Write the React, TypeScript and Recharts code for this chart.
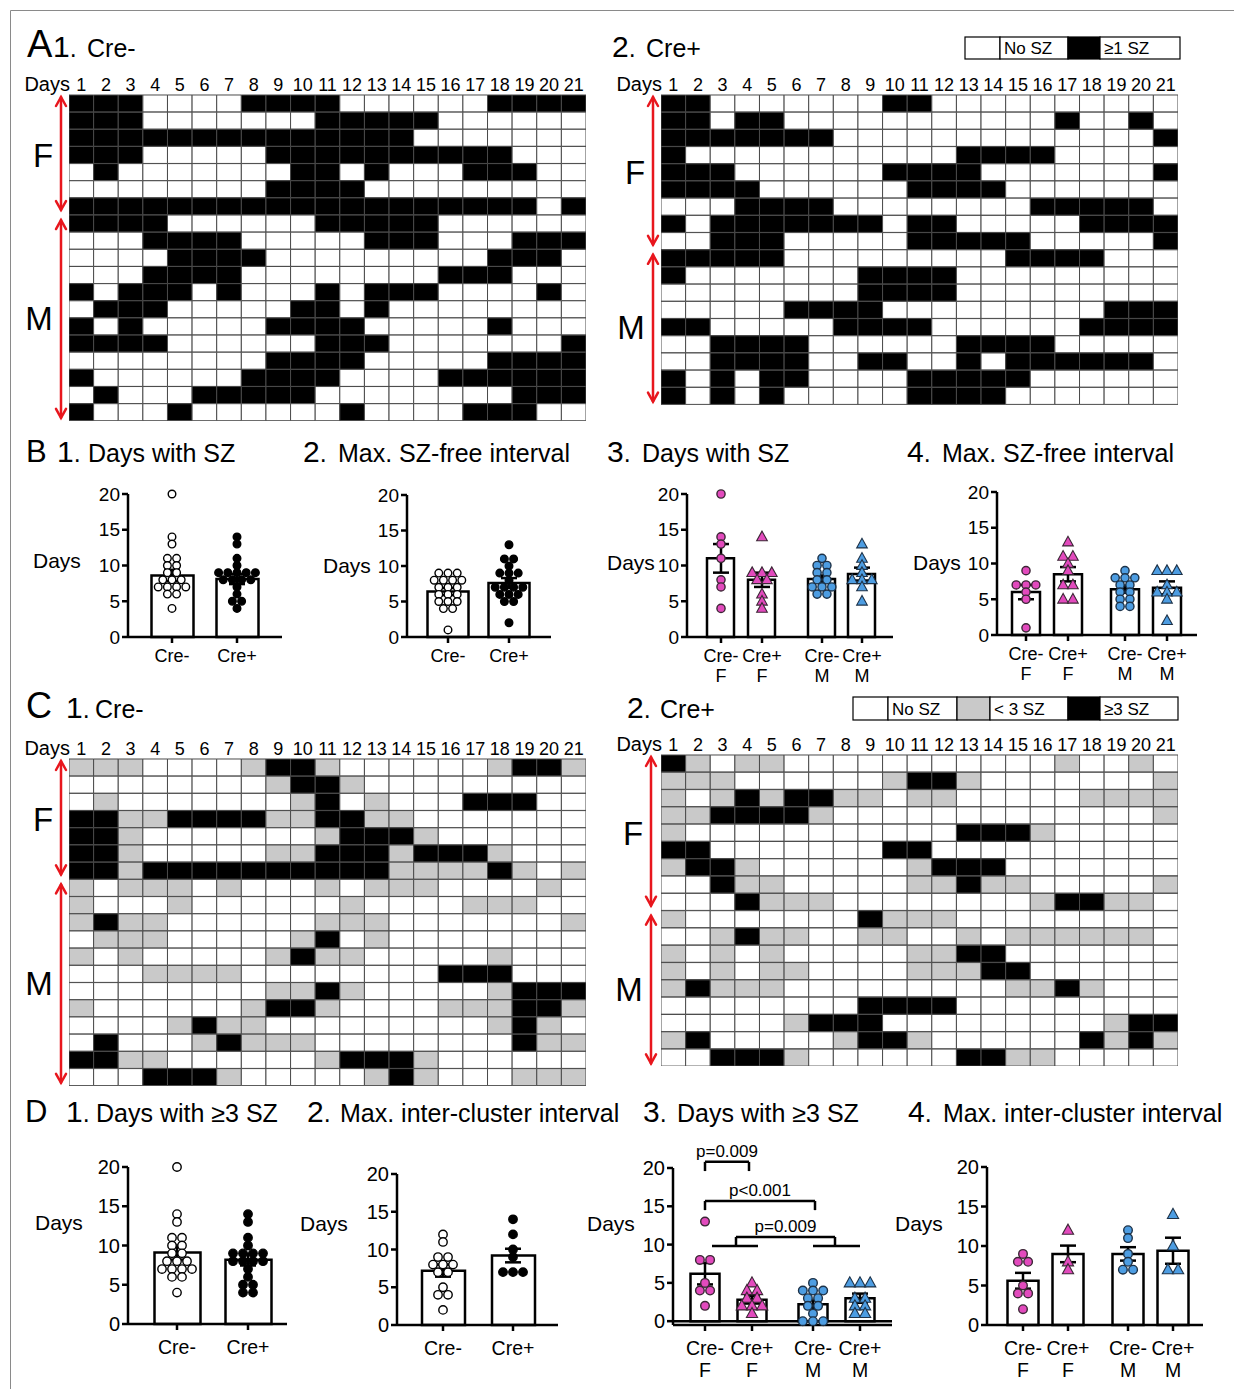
import React from "react";
import {
  BarChart,
  Bar,
  Cell,
  XAxis,
  YAxis,
  ComposedChart,
  Scatter,
  ErrorBar,
  ReferenceLine,
} from "recharts";

const FONT = '"Liberation Sans", Arial, Helvetica, sans-serif';
const PINK = "#e24abd";
const BLUE = "#4d9de2";
const RED = "#e8161d";
const GRAY = "#c9c9c9";

// ---- day-by-day grids (0 = none, 1 = <3 SZ / >=1 SZ, 2 = >=3 SZ) ----
const DAYS = ["1", "2", "3", "4", "5", "6", "7", "8", "9", "10", "11", "12", "13", "14", "15", "16", "17", "18", "19", "20", "21"];

const A1_ROWS = [
  "111000011110000001111",
  "111000000011111000000",
  "111111111111110000000",
  "111000001111111111000",
  "010000000110100011100",
  "000000001111000000000",
  "111111111111111111101",
  "111100000011111000000",
  "000111100000111000111",
  "000011110000000001110",
  "000111100000000111000",
  "101110100010111000010",
  "011100000110100000000",
  "101000001111000001000",
  "111100000011100000001",
  "000000001111000001111",
  "100000011110000111111",
  "010001111100000000111",
  "100010000001000011100",
];
const A1_FEMALE_ROWS = 7;

const A2_ROWS = [
  "110000000110000000000",
  "110110000000000010010",
  "111111100000000000001",
  "100000000000111100000",
  "111000000111100000001",
  "111100000011110000000",
  "000111100000000111110",
  "101111111011000001111",
  "001110000011111000001",
  "111110000000001111000",
  "100000001111000000000",
  "000000001111000000000",
  "000001111000000000111",
  "110000011110000001111",
  "001111000000111100000",
  "001111001100101111110",
  "101011000011111000000",
  "101010000011110000000",
];
const A2_FEMALE_ROWS = 9;

const C1_ROWS = [
  "111000012210000001221",
  "000000001221000000000",
  "010000000120100022200",
  "221122221122110000000",
  "221000000012221000000",
  "221000001122212221000",
  "221222222222211112101",
  "101110100010111000010",
  "100010000001000011100",
  "121100000011100000001",
  "011100000120100000000",
  "101000001211000001000",
  "000111100000000222000",
  "000000001121000001222",
  "100000012210000111221",
  "000012110000000001210",
  "020001211100000000211",
  "221100000012221000000",
  "000222100000121000111",
];
const C1_FEMALE_ROWS = 7;

const C2_ROWS = [
  "210110000000000010010",
  "111000000122100000001",
  "101212211011000001111",
  "112222100000000000001",
  "100000000000222100000",
  "220000000220000000000",
  "122100000012220000000",
  "002110000011211000001",
  "000211100000000122110",
  "100000002111000000000",
  "001211001100101111110",
  "101010000011220000000",
  "101011000011122000000",
  "121110000000001121000",
  "000000002222000000000",
  "000001222000000000122",
  "120000012210000002121",
  "002221000000221100000",
];
const C2_FEMALE_ROWS = 9;

// ---- group labels ----
const GENO = ["Cre-", "Cre+"];
const GENO_SEX = ["Cre-", "Cre+", "Cre-", "Cre+"];
const SEX = ["F", "F", "M", "M"];
const Y_TICKS = [0, 5, 10, 15, 20];

// ---- B1 days with SZ ----
const B1_MEAN = [8.6, 8.1];
const B1_SEM = [0.8, 0.7];
const B1_CRE_NEG = [20, 14, 13, 11, 11, 10, 10, 9, 9, 8, 8, 8, 7, 7, 7, 7, 6, 6, 4];
const B1_CRE_POS = [14, 13, 11, 10, 9, 9, 9, 9, 9, 8, 8, 8, 8, 7, 6, 5, 5, 4];

// ---- B2 max SZ-free interval ----
const B2_MEAN = [6.4, 7.6];
const B2_SEM = [0.5, 0.7];
const B2_CRE_NEG = [9, 9, 9, 8, 8, 8, 8, 7, 7, 7, 6, 6, 6, 5, 5, 5, 4, 4, 1];
const B2_CRE_POS = [13, 11, 11, 10, 9, 9, 9, 8, 7, 7, 7, 7, 6, 6, 6, 5, 5, 2];

// ---- B3 days with SZ by sex ----
const B3_MEAN = [11, 8, 8.1, 8.8];
const B3_SEM = [2, 1, 0.5, 0.9];
const B3_F_NEG = [20, 14, 13, 11, 8, 7, 4];
const B3_F_POS = [14, 9, 9, 9, 8, 8, 6, 5, 4];
const B3_M_NEG = [11, 10, 10, 9, 9, 8, 8, 7, 7, 7, 6, 6];
const B3_M_POS = [13, 11, 10, 9, 8, 8, 8, 7, 5];

// ---- B4 max SZ-free interval by sex ----
const B4_MEAN = [6, 8.5, 6.4, 6.6];
const B4_SEM = [1, 1, 0.5, 0.9];
const B4_F_NEG = [9, 7, 7, 7, 6, 5, 1];
const B4_F_POS = [13, 11, 11, 10, 9, 7, 7, 5, 5];
const B4_M_NEG = [9, 8, 8, 8, 7, 7, 6, 6, 5, 5, 4, 4];
const B4_M_POS = [9, 9, 9, 7, 6, 6, 6, 5, 2];

// ---- D1 days with >=3 SZ ----
const D1_MEAN = [9.1, 8.2];
const D1_SEM = [0.9, 0.75];
const D1_CRE_NEG = [20, 14, 13, 11, 11, 10, 10, 9, 9, 8, 8, 8, 7, 7, 7, 7, 6, 6, 4];
const D1_CRE_POS = [14, 13, 11, 10, 9, 9, 9, 9, 8, 8, 8, 8, 7, 6, 5, 5, 4, 4];

// ---- D2 max inter-cluster interval ----
const D2_MEAN = [7.2, 9.2];
const D2_SEM = [0.8, 0.9];
const D2_CRE_NEG = [12, 11, 9, 9, 8, 8, 8, 7, 7, 5, 4, 4, 2];
const D2_CRE_POS = [14, 12, 10, 9, 7, 7, 7];

// ---- D3 days with >=3 SZ by sex ----
const D3_MEAN = [6.2, 2.8, 2.2, 3];
const D3_SEM = [1.4, 0.5, 0.5, 0.6];
const D3_F_NEG = [13, 8, 8, 5, 4, 4, 2];
const D3_F_POS = [5, 4, 4, 3, 3, 2, 2, 2, 1];
const D3_M_NEG = [5, 4, 4, 4, 3, 3, 2, 2, 1, 0, 0, 0];
const D3_M_POS = [5, 5, 5, 3, 3, 2, 2, 1, 1];
const D3_P = ["p=0.009", "p<0.001", "p=0.009"];

// ---- D4 max inter-cluster interval by sex ----
const D4_MEAN = [5.6, 9, 9, 9.4];
const D4_SEM = [1, 1.05, 0.85, 1.65];
const D4_F_NEG = [9, 8, 8, 5, 4, 4, 2];
const D4_F_POS = [12, 8, 7];
const D4_M_NEG = [12, 11, 9, 8, 7, 7];
const D4_M_POS = [14, 10, 7, 7];

type DotStyle = { fill: string; stroke: string; shape: "circle" | "triangle" };
const OPEN: DotStyle = { fill: "#fff", stroke: "#000", shape: "circle" };
const SOLID: DotStyle = { fill: "#000", stroke: "#000", shape: "circle" };
const F_CIRC: DotStyle = { fill: PINK, stroke: "#3b2735", shape: "circle" };
const F_TRI: DotStyle = { fill: PINK, stroke: "#3b2735", shape: "triangle" };
const M_CIRC: DotStyle = { fill: BLUE, stroke: "#1d3248", shape: "circle" };
const M_TRI: DotStyle = { fill: BLUE, stroke: "#1d3248", shape: "triangle" };

const AX = { stroke: "#000", strokeWidth: 2.5 };

const MAPS = [
  { rows: A1_ROWS, nF: A1_FEMALE_ROWS, left: 69, top: 95, width: 517, rowH: 17.15, pal: ["#fff", "#000"], arrowX: 61 },
  { rows: A2_ROWS, nF: A2_FEMALE_ROWS, left: 661, top: 95, width: 517, rowH: 17.2, pal: ["#fff", "#000"], arrowX: 653 },
  { rows: C1_ROWS, nF: C1_FEMALE_ROWS, left: 69, top: 759, width: 517, rowH: 17.2, pal: ["#fff", GRAY, "#000"], arrowX: 61 },
  { rows: C2_ROWS, nF: C2_FEMALE_ROWS, left: 661, top: 755, width: 517, rowH: 17.3, pal: ["#fff", GRAY, "#000"], arrowX: 651 },
];

const HEAD = 24;

function Heatmap({ rows, left, top, width, rowH, pal }: any) {
  const data = rows.map((r: string, i: number) => {
    const o: any = { row: i };
    DAYS.forEach((_, j) => (o["d" + j] = 1));
    return o;
  });
  const height = rows.length * rowH;
  return (
    <div style={{ position: "absolute", left, top: top - HEAD }}>
      <BarChart
        width={width}
        height={height + HEAD}
        data={data}
        layout="vertical"
        barCategoryGap={0}
        margin={{ top: 0, right: 0, bottom: 0, left: 0 }}
      >
        <XAxis
          type="number"
          orientation="top"
          domain={[0, DAYS.length]}
          ticks={DAYS.map((_, j) => j + 0.5)}
          interval={0}
          tickFormatter={(v: number) => DAYS[Math.round(v - 0.5)]}
          axisLine={false}
          tickLine={false}
          tickSize={0}
          tickMargin={4}
          height={HEAD}
          tick={{ fontSize: 18, fill: "#000", fontFamily: FONT }}
        />
        <YAxis type="category" dataKey="row" hide />
        {DAYS.map((_, j) => (
          <Bar key={j} dataKey={"d" + j} stackId="g" stroke="#4a4a4a" strokeWidth={1} isAnimationActive={false}>
            {rows.map((r: string, i: number) => (
              <Cell key={i} fill={pal[+r[j]]} />
            ))}
          </Bar>
        ))}
      </BarChart>
    </div>
  );
}

function swarm(vals: number[], cx: number, step: number) {
  const total: Record<number, number> = {};
  vals.forEach((v) => (total[v] = (total[v] || 0) + 1));
  const used: Record<number, number> = {};
  return vals.map((v) => {
    const i = (used[v] = (used[v] ?? -1) + 1);
    return { x: cx + (i - (total[v] - 1) / 2) * step, y: v };
  });
}

function Marker({ cx, cy, st, r }: any) {
  if (cx == null || cy == null) return null;
  if (st.shape === "triangle") {
    const h = r * 2.35;
    const w = r * 1.3;
    return (
      <polygon
        points={`${cx},${cy - h * 0.6} ${cx - w},${cy + h * 0.4} ${cx + w},${cy + h * 0.4}`}
        fill={st.fill}
        stroke={st.stroke}
        strokeWidth={1.1}
      />
    );
  }
  return <circle cx={cx} cy={cy} r={r} fill={st.fill} stroke={st.stroke} strokeWidth={1.4} />;
}

function CatTick(props: any) {
  const { x, y, payload, labels, subs, pos, fs } = props;
  let i = 0;
  pos.forEach((p: number, k: number) => {
    if (Math.abs(p - payload.value) < Math.abs(pos[i] - payload.value)) i = k;
  });
  return (
    <text x={x} y={y} textAnchor="middle" fontSize={fs} fontFamily={FONT} fill="#000">
      <tspan x={x} dy={fs * 0.82}>
        {labels[i]}
      </tspan>
      {subs ? (
        <tspan x={x} dy={fs * 1.15}>
          {subs[i]}
        </tspan>
      ) : null}
    </text>
  );
}

function DotBar(p: any) {
  const YW = 40;
  const XH = 62;
  const head = p.headroom ?? 16;
  const W = p.x1 - p.x0;
  const pos = p.centers.map((c: number) => c - p.x0);
  const bars = pos.map((x: number, i: number) => ({ x, y: p.means[i], sem: p.sems[i] }));
  const step = 2 * p.r + 1.6;
  return (
    <div style={{ position: "absolute", left: p.x0 - YW, top: p.yTop - head }}>
      <ComposedChart
        width={YW + W + 8}
        height={head + (p.yBot - p.yTop) + XH}
        data={bars}
        margin={{ top: head, right: 8, bottom: 0, left: 0 }}
      >
        <XAxis
          dataKey="x"
          type="number"
          domain={[0, W]}
          ticks={pos}
          interval={0}
          height={XH}
          tickSize={6}
          tickMargin={p.lm}
          axisLine={AX}
          tickLine={AX}
          tick={<CatTick labels={p.labels} subs={p.subs} pos={pos} fs={p.fs} />}
        />
        <XAxis xAxisId="dots" dataKey="x" type="number" domain={[0, W]} hide />
        <YAxis
          dataKey="y"
          type="number"
          domain={[p.yMin ?? 0, 20]}
          ticks={Y_TICKS}
          interval={0}
          width={YW}
          tickSize={6}
          tickMargin={2}
          axisLine={AX}
          tickLine={AX}
          tick={{ fontSize: p.tfs, fill: "#000", fontFamily: FONT }}
        />
        <Bar dataKey="y" barSize={p.barW} fill="#fff" stroke="#000" strokeWidth={2.5} isAnimationActive={false} />
        {p.dots.map((vals: number[], gi: number) => (
          <Scatter
            key={gi}
            xAxisId="dots"
            data={swarm(vals, pos[gi], step)}
            dataKey="y"
            isAnimationActive={false}
            shape={(s: any) => <Marker cx={s.cx} cy={s.cy} st={p.styles[gi]} r={p.r} />}
          />
        ))}
        <Scatter xAxisId="dots" data={bars} dataKey="y" isAnimationActive={false} shape={() => <g />}>
          <ErrorBar dataKey="sem" direction="y" width={8} stroke="#000" strokeWidth={2.5} />
        </Scatter>
        {p.children}
      </ComposedChart>
    </div>
  );
}

const TITLES = [
  { letter: "A", lx: 27, lfs: 38, num: "1", nx: 53, text: "Cre-", tx: 87, y: 57 },
  { num: "2", nx: 612, text: "Cre+", tx: 646, y: 57 },
  { letter: "B", lx: 26, lfs: 31, num: "1", nx: 57, text: "Days with SZ", tx: 88, y: 462 },
  { num: "2", nx: 303, text: "Max. SZ-free interval", tx: 338, y: 462 },
  { num: "3", nx: 607, text: "Days with SZ", tx: 642, y: 462 },
  { num: "4", nx: 907, text: "Max. SZ-free interval", tx: 942, y: 462 },
  { letter: "C", lx: 26, lfs: 36, num: "1", nx: 66, text: "Cre-", tx: 95, y: 718 },
  { num: "2", nx: 627, text: "Cre+", tx: 660, y: 718 },
  { letter: "D", lx: 25, lfs: 31, num: "1", nx: 66, text: "Days with ≥3 SZ", tx: 96, y: 1122 },
  { num: "2", nx: 307, text: "Max. inter-cluster interval", tx: 340, y: 1122 },
  { num: "3", nx: 643, text: "Days with ≥3 SZ", tx: 677, y: 1122 },
  { num: "4", nx: 908, text: "Max. inter-cluster interval", tx: 943, y: 1122 },
];

const DAYS_LABELS = [
  [33, 560], [323, 565], [607, 562], [913, 562],
  [35, 1222], [300, 1223], [587, 1223], [895, 1223],
];

const LEGENDS = [
  { x: 965, y: 37, h: 22, cells: [{ w: 35, fill: "#fff" }, { w: 68, text: "No SZ" }, { w: 32, fill: "#000" }, { w: 80, text: "≥1 SZ" }] },
  {
    x: 853, y: 697, h: 23,
    cells: [
      { w: 35, fill: "#fff" }, { w: 69, text: "No SZ" }, { w: 33, fill: GRAY },
      { w: 78, text: "< 3 SZ" }, { w: 32, fill: "#000" }, { w: 78, text: "≥3 SZ" },
    ],
  },
];

function Arrow({ x, y1, y2 }: { x: number; y1: number; y2: number }) {
  return (
    <g stroke={RED} strokeWidth={2.5} fill="none" strokeLinecap="round">
      <line x1={x} y1={y1} x2={x} y2={y2} />
      <polyline points={`${x - 5},${y1 + 9} ${x},${y1} ${x + 5},${y1 + 9}`} />
      <polyline points={`${x - 5},${y2 - 9} ${x},${y2} ${x + 5},${y2 - 9}`} />
    </g>
  );
}

function Overlay() {
  return (
    <svg
      width={1234}
      height={1389}
      style={{ position: "absolute", left: 0, top: 0, pointerEvents: "none" }}
      fontFamily={FONT}
    >
      <path d="M10.5 1389 V10.5 H1234" stroke="#8a8a8a" fill="none" />
      {TITLES.map((t, i) => (
        <text key={i} y={t.y} fill="#000">
          {t.letter ? (
            <tspan x={t.lx} fontSize={t.lfs}>
              {t.letter}
            </tspan>
          ) : null}
          <tspan x={t.nx} fontSize={30}>
            {t.num}
          </tspan>
          <tspan fontSize={25}>.</tspan>
          <tspan x={t.tx} fontSize={25}>
            {t.text}
          </tspan>
        </text>
      ))}
      {DAYS_LABELS.map(([x, cy], i) => (
        <text key={i} x={x} y={cy + 7.5} fontSize={21} fill="#000">
          Days
        </text>
      ))}
      {MAPS.map((m, i) => {
        const bottom = m.top + m.rows.length * m.rowH;
        const split = m.top + m.nF * m.rowH;
        const fMid = (m.top + split) / 2;
        const mMid = (split + bottom) / 2;
        return (
          <g key={i}>
            <text x={m.left + 1} y={m.top - 4} textAnchor="end" fontSize={20} fill="#000">
              Days
            </text>
            <Arrow x={m.arrowX} y1={m.top + 2} y2={split - 5} />
            <Arrow x={m.arrowX} y1={split + 5} y2={bottom - 3} />
            <text x={m.arrowX - 18} y={fMid + 12} textAnchor="middle" fontSize={33} fill="#000">
              F
            </text>
            <text x={m.arrowX - 22} y={mMid + 12} textAnchor="middle" fontSize={33} fill="#000">
              M
            </text>
          </g>
        );
      })}
      {LEGENDS.map((l, i) => {
        let cx = l.x;
        return (
          <g key={i}>
            {l.cells.map((c: any, k: number) => {
              const x = cx;
              cx += c.w;
              return (
                <g key={k}>
                  <rect x={x} y={l.y} width={c.w} height={l.h} fill={c.fill ?? "#fff"} stroke="#000" strokeWidth={1.2} />
                  {c.text ? (
                    <text x={x + 4} y={l.y + l.h / 2 + 6} fontSize={17} fill="#000">
                      {c.text}
                    </text>
                  ) : null}
                </g>
              );
            })}
          </g>
        );
      })}
    </svg>
  );
}

const BR = { stroke: "#000", strokeWidth: 2.5, ifOverflow: "visible" as const };

export default function App() {
  return (
    <div
      style={{
        position: "absolute",
        left: 0,
        top: 0,
        width: 1234,
        height: 1389,
        background: "#fff",
        overflow: "hidden",
        fontFamily: FONT,
      }}
    >
      {MAPS.map((m, i) => (
        <Heatmap key={i} {...m} />
      ))}

      <DotBar x0={128} x1={282} yTop={494} yBot={637} centers={[172, 237]} barW={42}
        labels={GENO} means={B1_MEAN} sems={B1_SEM} dots={[B1_CRE_NEG, B1_CRE_POS]}
        styles={[OPEN, SOLID]} fs={18} tfs={19} lm={4} r={3.8} />
      <DotBar x0={407} x1={551} yTop={495} yBot={637} centers={[448, 509]} barW={41}
        labels={GENO} means={B2_MEAN} sems={B2_SEM} dots={[B2_CRE_NEG, B2_CRE_POS]}
        styles={[OPEN, SOLID]} fs={18} tfs={19} lm={4} r={3.8} />
      <DotBar x0={687} x1={893} yTop={494} yBot={637} centers={[721, 762, 822, 862]} barW={27}
        labels={GENO_SEX} subs={SEX} means={B3_MEAN} sems={B3_SEM}
        dots={[B3_F_NEG, B3_F_POS, B3_M_NEG, B3_M_POS]}
        styles={[F_CIRC, F_TRI, M_CIRC, M_TRI]} fs={18} tfs={19} lm={4} r={4.1} />
      <DotBar x0={997} x1={1197} yTop={492} yBot={635} centers={[1026, 1068, 1125, 1167]} barW={28}
        labels={GENO_SEX} subs={SEX} means={B4_MEAN} sems={B4_SEM}
        dots={[B4_F_NEG, B4_F_POS, B4_M_NEG, B4_M_POS]}
        styles={[F_CIRC, F_TRI, M_CIRC, M_TRI]} fs={18} tfs={19} lm={4} r={4.1} />

      <DotBar x0={128} x1={287} yTop={1167} yBot={1324} centers={[177, 248]} barW={46}
        labels={GENO} means={D1_MEAN} sems={D1_SEM} dots={[D1_CRE_NEG, D1_CRE_POS]}
        styles={[OPEN, SOLID]} fs={19.5} tfs={20} lm={8} r={4.2} />
      <DotBar x0={397} x1={558} yTop={1174} yBot={1325} centers={[443, 513]} barW={43}
        labels={GENO} means={D2_MEAN} sems={D2_SEM} dots={[D2_CRE_NEG, D2_CRE_POS]}
        styles={[OPEN, SOLID]} fs={19.5} tfs={20} lm={8} r={4.2} />
      <DotBar x0={673} x1={892} yTop={1168} yBot={1325} yMin={-0.5} headroom={48}
        centers={[705, 752, 813, 860]} barW={29}
        labels={GENO_SEX} subs={SEX} means={D3_MEAN} sems={D3_SEM}
        dots={[D3_F_NEG, D3_F_POS, D3_M_NEG, D3_M_POS]}
        styles={[F_CIRC, F_TRI, M_CIRC, M_TRI]} fs={19.5} tfs={20} lm={8} r={4.3}>
        <ReferenceLine y={0} stroke="#000" strokeWidth={2.5} />
        <ReferenceLine segment={[{ x: 32, y: 20.8 }, { x: 76, y: 20.8 }]} {...BR}
          label={{ value: D3_P[0], position: "top", fontSize: 17, fill: "#000", fontFamily: FONT }} />
        <ReferenceLine segment={[{ x: 32, y: 20.8 }, { x: 32, y: 19.6 }]} {...BR} />
        <ReferenceLine segment={[{ x: 76, y: 20.8 }, { x: 76, y: 19.6 }]} {...BR} />
        <ReferenceLine segment={[{ x: 32, y: 15.7 }, { x: 142, y: 15.7 }]} {...BR}
          label={{ value: D3_P[1], position: "top", fontSize: 17, fill: "#000", fontFamily: FONT }} />
        <ReferenceLine segment={[{ x: 32, y: 15.7 }, { x: 32, y: 14.5 }]} {...BR} />
        <ReferenceLine segment={[{ x: 142, y: 15.7 }, { x: 142, y: 14.5 }]} {...BR} />
        <ReferenceLine segment={[{ x: 63, y: 11 }, { x: 162, y: 11 }]} {...BR}
          label={{ value: D3_P[2], position: "top", fontSize: 17, fill: "#000", fontFamily: FONT }} />
        <ReferenceLine segment={[{ x: 63, y: 11 }, { x: 63, y: 9.8 }]} {...BR} />
        <ReferenceLine segment={[{ x: 162, y: 11 }, { x: 162, y: 9.8 }]} {...BR} />
        <ReferenceLine segment={[{ x: 39, y: 9.8 }, { x: 85, y: 9.8 }]} {...BR} />
        <ReferenceLine segment={[{ x: 140, y: 9.8 }, { x: 187, y: 9.8 }]} {...BR} />
      </DotBar>
      <DotBar x0={987} x1={1203} yTop={1167} yBot={1325} centers={[1023, 1068, 1128, 1173]} barW={31}
        labels={GENO_SEX} subs={SEX} means={D4_MEAN} sems={D4_SEM}
        dots={[D4_F_NEG, D4_F_POS, D4_M_NEG, D4_M_POS]}
        styles={[F_CIRC, F_TRI, M_CIRC, M_TRI]} fs={19.5} tfs={20} lm={8} r={4.3} />

      <Overlay />
    </div>
  );
}
